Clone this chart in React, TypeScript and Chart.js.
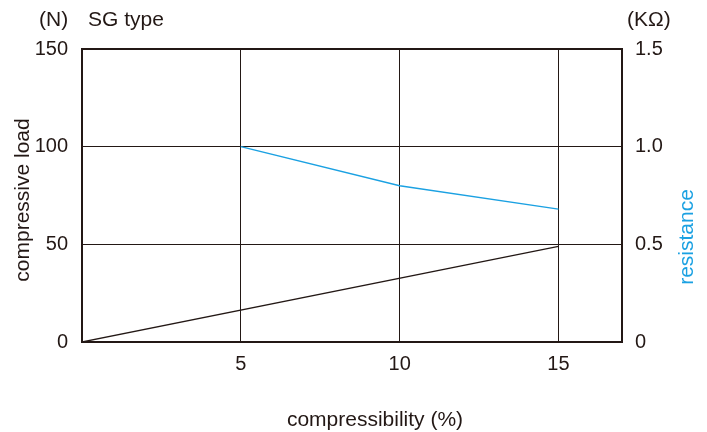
import React, { useEffect, useRef } from "react";
import { Chart, registerables } from "chart.js";

Chart.register(...registerables);

// ---- data ----
const X_TICKS = [5, 10, 15];
const LOAD_X = [0, 15];
const LOAD_N = [0, 49];
const RES_X = [5, 10, 15];
const RES_KOHM = [1.0, 0.8, 0.68];
const LOAD_TICKS = [0, 50, 100, 150];
const RES_TICKS = [0, 0.5, 1.0, 1.5];
const RES_TICK_LABELS = ["0", "0.5", "1.0", "1.5"];
const X_MIN = 0;
const X_MAX = 17;

const LABEL_TYPE = "SG type";
const LABEL_LEFT_UNIT = "(N)";
const LABEL_RIGHT_UNIT = "(KΩ)";
const LABEL_LEFT = "compressive load";
const LABEL_RIGHT = "resistance";
const LABEL_X = "compressibility (%)";

const FONT = '"Liberation Sans", Arial, Helvetica, sans-serif';
const INK = "#231815";
const BLUE = "#1ba1e2";
const TICK_SIZE = 20;
const TITLE_SIZE = 21;

const annotations = {
  id: "annotations",
  afterDraw(chart: any) {
    const ctx = chart.ctx as CanvasRenderingContext2D;
    const a = chart.chartArea;
    ctx.save();
    // frame
    ctx.strokeStyle = INK;
    ctx.lineWidth = 2;
    ctx.strokeRect(a.left, a.top, a.right - a.left, a.bottom - a.top);

    ctx.font = `${TITLE_SIZE}px ${FONT}`;
    ctx.fillStyle = INK;
    ctx.textBaseline = "middle";
    ctx.textAlign = "left";
    ctx.fillText(LABEL_LEFT_UNIT, 39, 20);
    ctx.fillText(LABEL_TYPE, 88, 20);
    ctx.fillText(LABEL_RIGHT_UNIT, 627, 20);

    ctx.textAlign = "center";
    ctx.fillText(LABEL_X, 375, 420);

    ctx.save();
    ctx.translate(23, 200);
    ctx.rotate(-Math.PI / 2);
    ctx.fillText(LABEL_LEFT, 0, 0);
    ctx.restore();

    ctx.save();
    ctx.translate(687, 237);
    ctx.rotate(-Math.PI / 2);
    ctx.fillStyle = BLUE;
    ctx.fillText(LABEL_RIGHT, 0, 0);
    ctx.restore();

    ctx.restore();
  },
};

export default function App() {
  const ref = useRef<HTMLCanvasElement | null>(null);

  useEffect(() => {
    document.body.style.margin = "0";
    const canvas = ref.current;
    if (!canvas) return;
    const chart = new Chart(canvas, {
      type: "scatter",
      data: {
        datasets: [
          {
            label: "load",
            data: LOAD_X.map((x, i) => ({ x, y: LOAD_N[i] })),
            showLine: true,
            borderColor: INK,
            borderWidth: 1.3,
            pointRadius: 0,
            yAxisID: "y",
          },
          {
            label: "resistance",
            data: RES_X.map((x, i) => ({ x, y: RES_KOHM[i] })),
            showLine: true,
            borderColor: BLUE,
            borderWidth: 1.4,
            pointRadius: 0,
            yAxisID: "y1",
          },
        ],
      },
      options: {
        responsive: false,
        animation: false,
        layout: { padding: { top: 49, left: 0, right: 0, bottom: 0 } },
        plugins: {
          legend: { display: false },
          tooltip: { enabled: false },
        },
        scales: {
          x: {
            type: "linear",
            min: X_MIN,
            max: X_MAX,
            afterBuildTicks: (s: any) => {
              s.ticks = X_TICKS.map((v) => ({ value: v }));
            },
            afterFit: (s: any) => {
              s.height = 90;
            },
            grid: { color: INK, lineWidth: 1, drawTicks: false },
            border: { display: false },
            ticks: {
              padding: 10,
              color: INK,
              font: { family: FONT, size: TICK_SIZE },
              maxRotation: 0,
            },
          },
          y: {
            type: "linear",
            position: "left",
            min: 0,
            max: 150,
            afterBuildTicks: (s: any) => {
              s.ticks = LOAD_TICKS.map((v) => ({ value: v }));
            },
            afterFit: (s: any) => {
              s.width = 82;
            },
            grid: {
              drawTicks: false,
              lineWidth: 1,
              color: (c: any) =>
                c.tick && (c.tick.value === 0 || c.tick.value === 150) ? "rgba(0,0,0,0)" : INK,
            },
            border: { display: false },
            ticks: {
              padding: 14,
              color: INK,
              font: { family: FONT, size: TICK_SIZE },
            },
          },
          y1: {
            type: "linear",
            position: "right",
            min: 0,
            max: 1.5,
            afterBuildTicks: (s: any) => {
              s.ticks = RES_TICKS.map((v) => ({ value: v }));
            },
            afterFit: (s: any) => {
              s.width = 85;
            },
            grid: { display: false, drawTicks: false },
            border: { display: false },
            ticks: {
              padding: 13,
              color: INK,
              font: { family: FONT, size: TICK_SIZE },
              callback: (v: any) => {
                const i = RES_TICKS.indexOf(Number(v));
                return i >= 0 ? RES_TICK_LABELS[i] : String(v);
              },
            },
          },
        },
      },
      plugins: [annotations],
    });
    return () => chart.destroy();
  }, []);

  return (
    <div style={{ width: 707, height: 432 }}>
      <canvas ref={ref} width={707} height={432} />
    </div>
  );
}
